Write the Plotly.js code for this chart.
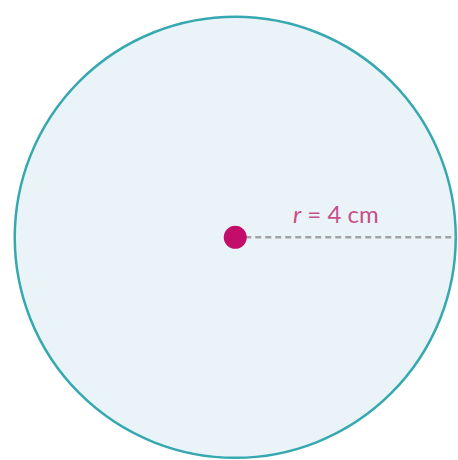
<!DOCTYPE html>
<html>
<head>
<meta charset="utf-8">
<script src="https://cdn.plot.ly/plotly-3.0.1.min.js"></script>
<style>html,body{margin:0;padding:0;background:#fff;}#chart{width:458px;height:460px;}</style>
</head>
<body>
<div id="chart"></div>
<script>
// Data (cm)
const centerX = [0];
const centerY = [0];
const radius = 4;
const radiusLineX = [0, 4];
const radiusLineY = [0, 0];
const labelText = '<i>r</i> = 4 cm';

const traces = [
  {
    type: 'scatter', mode: 'lines',
    x: radiusLineX, y: radiusLineY,
    line: {color: '#a3a3a3', width: 2.5, dash: '6px,4px'},
    hoverinfo: 'skip', showlegend: false
  },
  {
    type: 'scatter', mode: 'markers',
    x: centerX, y: centerY,
    marker: {color: '#c20d6b', size: 23, line: {width: 0}},
    hoverinfo: 'skip', showlegend: false
  }
];

const layout = {
  width: 458, height: 460,
  margin: {l: 0, r: 0, t: 0, b: 0},
  paper_bgcolor: '#ffffff', plot_bgcolor: '#ffffff',
  xaxis: {range: [-4.2676, 4.0408], visible: false, fixedrange: true},
  yaxis: {range: [-4.0399, 4.3048], visible: false, fixedrange: true},
  showlegend: false,
  shapes: [{
    type: 'circle', xref: 'x', yref: 'y', layer: 'below',
    x0: centerX[0] - radius, x1: centerX[0] + radius,
    y0: centerY[0] - radius, y1: centerY[0] + radius,
    fillcolor: '#eaf4f8',
    line: {color: '#35a8b0', width: 2.5}
  }],
  annotations: [{
    x: 1.83, y: 0.43, xref: 'x', yref: 'y',
    text: labelText, showarrow: false,
    font: {family: 'Lato, "Open Sans", sans-serif', size: 24, color: '#c84f88'}
  }]
};

Plotly.newPlot('chart', traces, layout, {displayModeBar: false, staticPlot: true});
</script>
</body>
</html>
